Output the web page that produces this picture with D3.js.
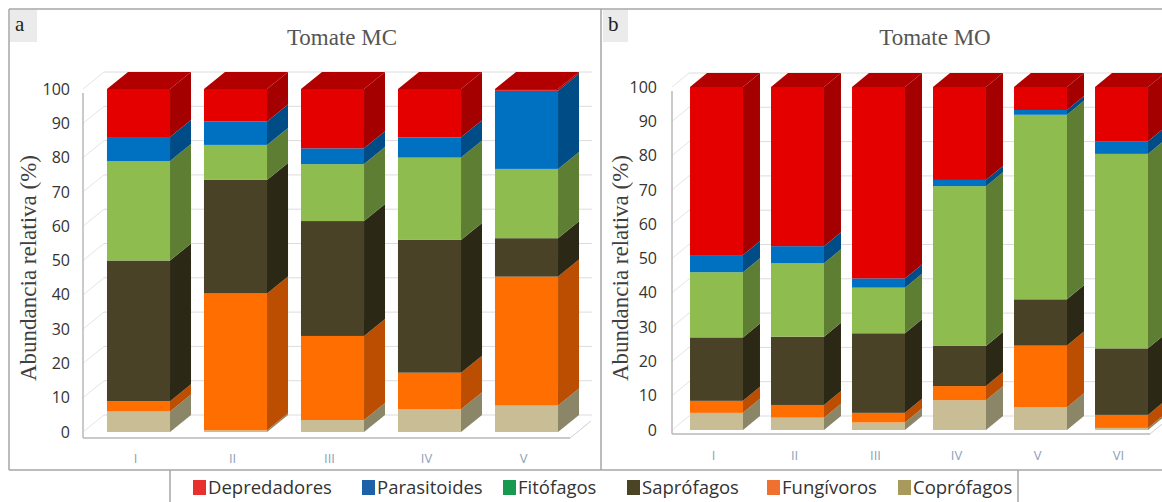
<!DOCTYPE html>
<html>
<head>
<meta charset="utf-8">
<script src="https://cdn.jsdelivr.net/npm/d3@7/dist/d3.min.js"></script>
<style>
  html, body { margin: 0; padding: 0; background: #fff; }
  svg { display: block; }
</style>
</head>
<body>
<svg id="chart" width="1162" height="502"></svg>
<script>
// Functional groups, stacked bottom to top
const groups = ["Coprófagos", "Fungívoros", "Saprófagos", "Fitófagos", "Parasitoides", "Depredadores"];
const legendOrder = ["Depredadores", "Parasitoides", "Fitófagos", "Saprófagos", "Fungívoros", "Coprófagos"];
const yTicks = [0, 10, 20, 30, 40, 50, 60, 70, 80, 90, 100];

// Tomate MC — relative abundance (%) per sampling
const mcCategories   = ["I", "II", "III", "IV", "V"];
const mcCoprofagos   = [6.0, 0.5, 3.5, 6.6, 7.7];
const mcFungivoros   = [3.0, 39.9, 24.5, 10.7, 37.6];
const mcSaprofagos   = [41.0, 33.1, 33.5, 38.7, 11.2];
const mcFitofagos    = [29.0, 10.2, 16.6, 24.0, 20.2];
const mcParasitoides = [7.0, 6.8, 4.6, 5.9, 22.8];
const mcDepredadores = [14.0, 9.5, 17.3, 14.1, 0.5];

// Tomate MO — relative abundance (%) per sampling
const moCategories   = ["I", "II", "III", "IV", "V", "VI"];
const moCoprofagos   = [5.0, 3.6, 2.2, 8.7, 6.6, 0.6];
const moFungivoros   = [3.5, 3.7, 2.8, 4.1, 18.0, 3.8];
const moSaprofagos   = [18.5, 19.9, 23.2, 11.7, 13.5, 19.4];
const moFitofagos    = [19.0, 21.4, 13.3, 46.6, 53.8, 56.7];
const moParasitoides = [5.0, 5.0, 2.7, 1.8, 1.4, 3.7];
const moDepredadores = [49.0, 46.4, 55.8, 27.1, 6.7, 15.8];

// Face colours of the 3D bars
const frontColor = {
  "Depredadores": "#e50000", "Parasitoides": "#0071c1", "Fitófagos": "#8fbc4f",
  "Saprófagos": "#4a4226", "Fungívoros": "#ff6e00", "Coprófagos": "#c9bd96"
};
const sideColor = {
  "Depredadores": "#a40000", "Parasitoides": "#004c87", "Fitófagos": "#5e7f33",
  "Saprófagos": "#2c2816", "Fungívoros": "#bb4e00", "Coprófagos": "#8b8667"
};
const topColor = {
  "Depredadores": "#b20000", "Parasitoides": "#005796", "Fitófagos": "#6d9140",
  "Saprófagos": "#36301b", "Fungívoros": "#cc5800", "Coprófagos": "#a49d7b"
};
const legendColor = {
  "Depredadores": "#e8302f", "Parasitoides": "#1e61a8", "Fitófagos": "#17994f",
  "Saprófagos": "#4b4424", "Fungívoros": "#f07030", "Coprófagos": "#a8995c"
};

function rows(cats, cols) {
  return cats.map((c, i) => {
    const r = { cat: c };
    groups.forEach((g, k) => { r[g] = cols[k][i]; });
    return r;
  });
}

const svg = d3.select("#chart");

function drawPanel(cfg) {
  const g = svg.append("g");
  const data = rows(cfg.cats, cfg.cols);
  const stack = d3.stack().keys(groups)(data);

  const x = d3.scaleBand().domain(cfg.cats).range(cfg.xRange)
    .paddingInner(cfg.padIn).paddingOuter(cfg.padIn / 2);
  const y = d3.scaleLinear().domain([0, 100]).range(cfg.yRange);
  const dx = cfg.dx, dy = cfg.dy;

  // back wall gridlines and left wall diagonals
  const grid = g.append("g");
  yTicks.forEach(v => {
    grid.append("line")
      .attr("x1", cfg.axisX + dx).attr("x2", cfg.gridRight)
      .attr("y1", y(v) - dy).attr("y2", y(v) - dy)
      .attr("stroke", "#dcdcdc").attr("stroke-width", 1);
    grid.append("line")
      .attr("x1", cfg.axisX).attr("x2", cfg.axisX + dx)
      .attr("y1", y(v)).attr("y2", y(v) - dy)
      .attr("stroke", "#e4e4e4").attr("stroke-width", 1);
  });
  // wall and floor edges
  grid.append("line")
    .attr("x1", cfg.axisX).attr("x2", cfg.axisX)
    .attr("y1", y(100) + 4).attr("y2", cfg.floorY)
    .attr("stroke", "#b8b8b8").attr("stroke-width", 1.5);
  grid.append("line")
    .attr("x1", cfg.axisX).attr("x2", cfg.floorRight)
    .attr("y1", cfg.floorY).attr("y2", cfg.floorY)
    .attr("stroke", "#b8b8b8").attr("stroke-width", 1.5);
  grid.append("line")
    .attr("x1", cfg.floorRight).attr("x2", cfg.floorRight + dx)
    .attr("y1", cfg.floorY).attr("y2", cfg.floorY - dy)
    .attr("stroke", "#d0d0d0").attr("stroke-width", 1);

  // stacked 3D bars
  const bars = g.append("g");
  stack.forEach(layer => {
    const key = layer.key;
    layer.forEach(d => {
      const x0 = x(d.data.cat), w = x.bandwidth();
      const yT = y(d[1]), yB = y(d[0]);
      if (yB - yT <= 0) return;
      bars.append("polygon")
        .attr("points", [[x0 + w, yT], [x0 + w + dx, yT - dy], [x0 + w + dx, yB - dy], [x0 + w, yB]].join(" "))
        .attr("fill", sideColor[key]);
      bars.append("rect")
        .attr("x", x0).attr("y", yT).attr("width", w).attr("height", yB - yT)
        .attr("fill", frontColor[key]);
    });
  });
  // top faces take the colour of the uppermost segment
  const last = stack[stack.length - 1];
  last.forEach(d => {
    const x0 = x(d.data.cat), w = x.bandwidth(), yT = y(d[1]);
    bars.append("polygon")
      .attr("points", [[x0, yT], [x0 + dx, yT - dy], [x0 + w + dx, yT - dy], [x0 + w, yT]].join(" "))
      .attr("fill", topColor[last.key]);
  });

  // value axis labels
  const yAxis = g.append("g")
    .attr("transform", `translate(${cfg.axisX},0)`)
    .call(d3.axisLeft(y).tickValues(yTicks).tickSize(0).tickPadding(cfg.tickPad));
  yAxis.select(".domain").remove();
  yAxis.selectAll("text")
    .attr("font-family", "Open Sans, sans-serif").attr("font-size", 16).attr("fill", "#333");

  // category labels
  const xAxis = g.append("g")
    .attr("transform", `translate(-3,${cfg.catY})`)
    .call(d3.axisBottom(x).tickSize(0).tickPadding(0));
  xAxis.select(".domain").remove();
  xAxis.selectAll("text")
    .attr("font-family", "Open Sans, sans-serif").attr("font-size", 13).attr("fill", "#8a9fb8");

  // titles
  g.append("text")
    .attr("x", cfg.titleX).attr("y", 45).attr("text-anchor", "middle")
    .attr("font-family", "Liberation Serif, Times New Roman, serif").attr("font-size", 23)
    .attr("fill", "#555").text(cfg.title);
  g.append("text")
    .attr("transform", `translate(${cfg.yTitleX},268) rotate(-90)`)
    .attr("text-anchor", "middle").attr("dominant-baseline", "central")
    .attr("font-family", "Liberation Serif, Times New Roman, serif").attr("font-size", 23)
    .attr("fill", "#404040").text("Abundancia relativa (%)");

  // panel letter
  g.append("rect").attr("x", cfg.letterX).attr("y", 10).attr("width", cfg.letterW).attr("height", 32)
    .attr("fill", "#ebebeb");
  g.append("text").attr("x", cfg.letterX + 5).attr("y", 31)
    .attr("font-family", "Liberation Serif, Times New Roman, serif").attr("font-size", 21)
    .attr("fill", "#222").text(cfg.letter);
}

drawPanel({
  cats: mcCategories,
  cols: [mcCoprofagos, mcFungivoros, mcSaprofagos, mcFitofagos, mcParasitoides, mcDepredadores],
  xRange: [90, 575], padIn: 0.35, yRange: [432, 89], dx: 21, dy: 17,
  axisX: 83, floorY: 438, floorRight: 570, gridRight: 592, tickPad: 13, catY: 454,
  title: "Tomate MC", titleX: 342, yTitleX: 28, letter: "a", letterX: 10, letterW: 27
});

drawPanel({
  cats: moCategories,
  cols: [moCoprofagos, moFungivoros, moSaprofagos, moFitofagos, moParasitoides, moDepredadores],
  xRange: [676, 1162], padIn: 0.346, yRange: [430, 87], dx: 17, dy: 14,
  axisX: 672, floorY: 434, floorRight: 1150, gridRight: 1162, tickPad: 15, catY: 451,
  title: "Tomate MO", titleX: 935, yTitleX: 620, letter: "b", letterX: 603, letterW: 25
});

// frames
const frame = svg.append("g").attr("stroke", "#a6a6a6").attr("stroke-width", 1.5).attr("fill", "none");
frame.append("line").attr("x1", 9).attr("x2", 1162).attr("y1", 9).attr("y2", 9);
frame.append("line").attr("x1", 9).attr("x2", 9).attr("y1", 9).attr("y2", 470);
frame.append("line").attr("x1", 601).attr("x2", 601).attr("y1", 9).attr("y2", 470);
frame.append("line").attr("x1", 9).attr("x2", 1162).attr("y1", 470).attr("y2", 470);
frame.append("line").attr("x1", 170).attr("x2", 170).attr("y1", 470).attr("y2", 502);
frame.append("line").attr("x1", 1018).attr("x2", 1018).attr("y1", 470).attr("y2", 502);

// legend
const legendX = [193, 362, 503, 627, 767, 898];
const legend = svg.append("g");
legendOrder.forEach((name, i) => {
  legend.append("rect").attr("x", legendX[i]).attr("y", 480).attr("width", 13).attr("height", 15)
    .attr("fill", legendColor[name]);
  legend.append("text").attr("x", legendX[i] + 15).attr("y", 494)
    .attr("font-family", "Open Sans, sans-serif").attr("font-size", 18.5).attr("fill", "#333")
    .text(name);
});
</script>
</body>
</html>
